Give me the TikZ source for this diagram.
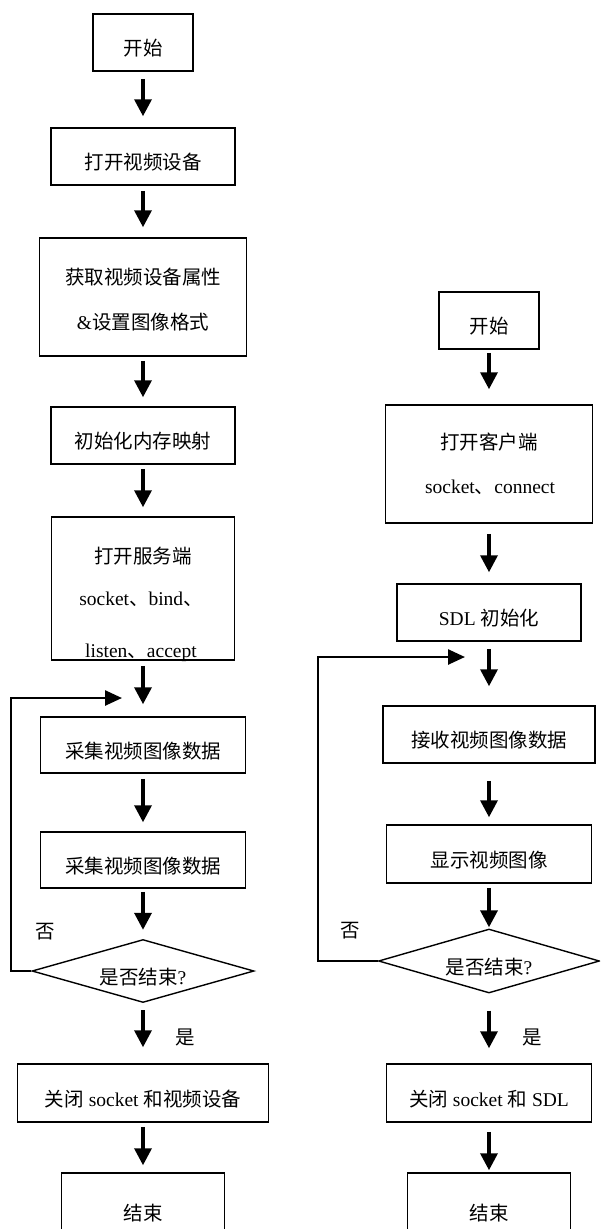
\documentclass[tikz,border=0pt]{standalone}
\usepackage{fontspec}
\setmainfont{Liberation Serif}
\newfontfamily\cjk{Noto Sans CJK SC}
\usetikzlibrary{arrows.meta,shapes.geometric}
\newcommand\myfs{\fontsize{19.5}{23}\selectfont}
\tikzset{
  box/.style={draw, line width=1.5pt, inner sep=0pt, text height=26pt, text depth=0pt, align=center},
  dia/.style={draw, diamond, line width=1.4pt, inner sep=0pt},
  arr/.style={line width=3.5pt, -{Triangle[width=17pt,length=17pt]}},
  loopl/.style={line width=1.6pt},
  looparr/.style={line width=2.6pt, -{Triangle[width=15pt,length=17pt]}},
  lbl/.style={inner sep=0pt, anchor=base},
  tag/.style={inner sep=0pt},
  dtxt/.style={inner sep=0pt, text height=26pt, text depth=0pt},
}
\begin{document}
\begin{tikzpicture}[x=1pt,y=-1pt,every node/.style={font=\myfs}]
\useasboundingbox (0,0) rectangle (600,1229);
\clip (0,0) rectangle (600,1229);
\fill[white] (0,0) rectangle (600,1229);

% ---------- left column ----------
\node[box, minimum width=100pt, minimum height=57pt] (L1) at (143,42.5) {\cjk 开始};
\node[box, minimum width=184pt, minimum height=57pt] (L2) at (143,156.5) {\cjk 打开视频设备};
\node[box, minimum width=207pt, minimum height=118pt] (L3) at (143,297) {};
\node[lbl] (L3a) at (143,284) {\cjk 获取视频设备属性};
\node[lbl] (L3b) at (143,329) {\&{\cjk 设置图像格式}};
\node[box, minimum width=184pt, minimum height=57pt] (L4) at (143,435.5) {\cjk 初始化内存映射};
\node[box, minimum width=183pt, minimum height=143pt] (L5) at (143,588.5) {};
\node[lbl] (L5a) at (143,563) {\cjk 打开服务端};
\node[lbl] (L5b) at (141,605) {socket{\cjk 、}bind{\cjk 、}};
\begin{scope}
  \clip (L5.north west) rectangle ([yshift=-1.5pt]L5.south east);
  \node[lbl] (L5c) at (141,657) {listen{\cjk 、}accept};
\end{scope}
\node[box, minimum width=205pt, minimum height=56pt] (L6) at (143,745) {\cjk 采集视频图像数据};
\node[box, minimum width=205pt, minimum height=56pt] (L7) at (143,860) {\cjk 采集视频图像数据};
\node[dia, minimum width=222pt, minimum height=63pt] (D1) at (143,971) {};
\node[dtxt] (D1t) at (D1.center) {{\cjk 是否结束}?};
\node[box, minimum width=251pt, minimum height=58pt] (L8) at (143,1093) {{\cjk 关闭} socket {\cjk 和视频设备}};
\node[box, minimum width=163pt, minimum height=68pt] (L9) at (143,1207) {\cjk 结束};
\node[tag] (n1) at (45,932) {\cjk 否};
\node[tag] (y1) at (185,1037) {\cjk 是};

\draw[arr, shorten <=7pt, shorten >=11pt] (L1) -- (L2);
\draw[arr, shorten <=5pt, shorten >=10pt] (L2) -- (L3);
\draw[arr, shorten <=4pt, shorten >=9pt] (L3) -- (L4);
\draw[arr, shorten <=4pt, shorten >=9pt] (L4) -- (L5);
\draw[arr, shorten <=5pt, shorten >=12pt] (L5) -- (L6);
\draw[arr, shorten <=5pt, shorten >=9pt] (L6) -- (L7);
\draw[arr, shorten <=3pt, shorten >=9pt] (L7) -- (D1);
\draw[arr, shorten <=7pt, shorten >=16pt] (D1) -- (L8);
\draw[arr, shorten <=4pt, shorten >=7pt] (L8) -- (L9);

\coordinate (lb) at (11,971);
\coordinate (lt) at (11,698);
\coordinate (le) at (122,698);
\draw[loopl] (D1.west) -- (lb) -- ([yshift=-1pt]lt);
\draw[looparr] ([xshift=-0.8pt]lt) -- (le);

% ---------- right column ----------
\node[box, minimum width=100pt, minimum height=57pt] (R1) at (489,320.5) {\cjk 开始};
\node[box, minimum width=207pt, minimum height=118pt] (R2) at (489,464) {};
\node[lbl] (R2a) at (489,449) {\cjk 打开客户端};
\node[lbl] (R2b) at (490,493) {socket{\cjk 、}connect};
\node[box, minimum width=184pt, minimum height=57pt] (R3) at (489,612.5) {SDL {\cjk 初始化}};
\node[box, minimum width=212pt, minimum height=57pt] (R4) at (489,734.5) {\cjk 接收视频图像数据};
\node[box, minimum width=205pt, minimum height=58pt] (R5) at (489,854) {\cjk 显示视频图像};
\node[dia, minimum width=221pt, minimum height=64pt] (D2) at (489,961) {};
\node[dtxt] (D2t) at (D2.center) {{\cjk 是否结束}?};
\node[box, minimum width=205pt, minimum height=58pt] (R6) at (489,1093) {{\cjk 关闭} socket {\cjk 和} SDL};
\node[box, minimum width=163pt, minimum height=68pt] (R7) at (489,1207) {\cjk 结束};
\node[tag] (n2) at (350,931) {\cjk 否};
\node[tag] (y2) at (532,1037) {\cjk 是};

\draw[arr, shorten <=3pt, shorten >=15pt] (R1) -- (R2);
\draw[arr, shorten <=10pt, shorten >=11pt] (R2) -- (R3);
\draw[arr, shorten <=7pt, shorten >=19pt] (R3) -- (R4);
\draw[arr, shorten <=17pt, shorten >=7pt] (R4) -- (R5);
\draw[arr, shorten <=4pt, shorten >=1pt] (R5) -- (D2);
\draw[arr, shorten <=17pt, shorten >=15pt] (D2) -- (R6);
\draw[arr, shorten <=9pt, shorten >=2pt] (R6) -- (R7);

\coordinate (rb) at (318,961);
\coordinate (rt) at (318,657);
\coordinate (re) at (465,657);
\draw[loopl] (D2.west) -- (rb) -- ([yshift=-1pt]rt);
\draw[looparr] ([xshift=-0.8pt]rt) -- (re);
\end{tikzpicture}
\end{document}
